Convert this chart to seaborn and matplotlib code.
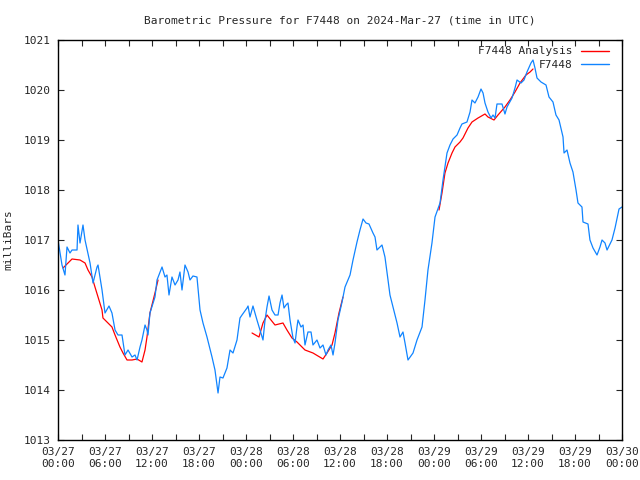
import matplotlib
matplotlib.use("Agg")
import matplotlib.pyplot as plt
import matplotlib.dates as mdates
from matplotlib.lines import Line2D
import seaborn as sns
import pandas as pd

start = pd.Timestamp("2024-03-27 00:00")

# station record, hours after start / millibars
obs_hours = [0, 0.51, 0.89, 1.15, 1.53, 1.79, 2.43, 2.55, 2.81, 3.19, 3.45, 4.09, 4.47, 4.98, 5.11,
             5.62, 6.0, 6.51, 6.89, 7.28, 7.66, 8.17, 8.55, 8.94, 9.45, 9.83, 10.09, 10.47, 10.72,
             11.11, 11.36, 11.49, 11.74, 12.38, 12.64, 13.28, 13.66, 13.91, 14.17, 14.55, 14.94,
             15.32, 15.57, 15.83, 16.21, 16.60, 16.85, 17.23, 17.74, 18.13, 18.51, 19.02, 19.66,
             20.04, 20.43, 20.68, 21.06, 21.57, 21.96, 22.34, 22.85, 23.23, 23.49, 24.13, 24.26,
             24.51, 24.89, 25.40, 25.79, 26.17, 26.43, 26.68, 26.94, 27.32, 27.70, 28.09, 28.34,
             28.60, 28.85, 29.11, 29.36, 29.62, 30.0, 30.26, 30.51, 30.64, 31.02, 31.28, 31.53,
             31.91, 32.30, 32.55, 33.06, 33.45, 33.83, 34.21, 34.47, 34.85, 35.11, 35.36, 35.74,
             36.26, 36.64, 37.28, 37.66, 38.17, 38.55, 38.94, 39.32, 39.70, 40.21, 40.47, 40.72,
             41.36, 41.74, 42.0, 42.13, 42.38, 42.77, 43.28, 43.66, 44.04, 44.30, 44.68, 45.32,
             45.83, 46.47, 46.85, 47.23, 47.74, 48.13, 48.77, 49.15, 49.66, 50.04, 50.43, 50.94,
             51.32, 51.57, 52.21, 52.60, 52.85, 53.23, 53.62, 54.0, 54.26, 54.51, 54.89, 55.28,
             55.53, 55.79, 56.04, 56.68, 57.06, 57.32, 57.96, 58.34, 58.60, 59.11, 59.49, 59.87,
             60.38, 60.64, 60.89, 61.15, 61.66, 62.30, 62.68, 63.19, 63.57, 63.96, 64.47, 64.60,
             64.98, 65.36, 65.74, 66.13, 66.38, 66.89, 67.02, 67.66, 67.91, 68.30, 68.81, 69.19,
             69.45, 69.83, 70.09, 70.72, 71.11, 71.62, 72.0]
obs_mb = [1017.0, 1016.5, 1016.3, 1016.86, 1016.74, 1016.8, 1016.8, 1017.3, 1016.94, 1017.3, 1017.0,
          1016.54, 1016.14, 1016.46, 1016.5, 1016.0, 1015.54, 1015.68, 1015.54, 1015.2, 1015.1,
          1015.1, 1014.7, 1014.8, 1014.66, 1014.7, 1014.6, 1014.86, 1015.0, 1015.3, 1015.2, 1015.1,
          1015.54, 1015.86, 1016.2, 1016.46, 1016.26, 1016.3, 1015.9, 1016.26, 1016.1, 1016.2,
          1016.36, 1016.0, 1016.5, 1016.36, 1016.2, 1016.28, 1016.26, 1015.6, 1015.34, 1015.06,
          1014.66, 1014.4, 1013.94, 1014.26, 1014.24, 1014.44, 1014.8, 1014.74, 1015.0, 1015.44,
          1015.5, 1015.64, 1015.68, 1015.46, 1015.68, 1015.4, 1015.2, 1015.0, 1015.4, 1015.66,
          1015.88, 1015.6, 1015.5, 1015.5, 1015.74, 1015.9, 1015.64, 1015.7, 1015.74, 1015.4,
          1015.04, 1014.94, 1015.26, 1015.4, 1015.26, 1015.3, 1014.9, 1015.16, 1015.16, 1014.9,
          1015.0, 1014.84, 1014.9, 1014.7, 1014.8, 1014.9, 1014.7, 1014.94, 1015.4, 1015.76,
          1016.06, 1016.3, 1016.6, 1016.96, 1017.2, 1017.42, 1017.34, 1017.32, 1017.14, 1017.06,
          1016.8, 1016.9, 1016.66, 1016.36, 1016.2, 1015.9, 1015.66, 1015.34, 1015.06, 1015.16,
          1014.94, 1014.6, 1014.74, 1015.0, 1015.26, 1015.8, 1016.4, 1016.94, 1017.46, 1017.74,
          1018.2, 1018.74, 1018.9, 1019.02, 1019.1, 1019.24, 1019.32, 1019.36, 1019.56, 1019.8,
          1019.74, 1019.86, 1020.02, 1019.94, 1019.74, 1019.56, 1019.44, 1019.5, 1019.44, 1019.72,
          1019.72, 1019.52, 1019.66, 1019.84, 1020.04, 1020.2, 1020.14, 1020.2, 1020.36, 1020.54,
          1020.6, 1020.44, 1020.24, 1020.16, 1020.1, 1019.86, 1019.76, 1019.5, 1019.4, 1019.06,
          1018.74, 1018.8, 1018.54, 1018.36, 1018.0, 1017.74, 1017.66, 1017.36, 1017.32, 1017.0,
          1016.84, 1016.7, 1016.86, 1017.0, 1016.94, 1016.8, 1017.0, 1017.24, 1017.62, 1017.66]

# analysis, three separate pieces
ana_hours_1 = [0.64, 1.79, 2.81, 3.45, 3.83, 4.34, 4.72, 5.11, 5.62, 5.74, 6.38, 6.89, 7.28, 7.91,
               8.30, 8.81, 9.45, 10.09, 10.72, 11.11, 11.36, 11.74, 12.38, 12.77]
ana_mb_1 = [1016.44, 1016.62, 1016.6, 1016.54, 1016.4, 1016.26, 1016.06, 1015.86, 1015.6, 1015.44,
            1015.34, 1015.26, 1015.1, 1014.86, 1014.74, 1014.6, 1014.6, 1014.62, 1014.56, 1014.8,
            1015.06, 1015.54, 1015.94, 1016.2]
ana_hours_2 = [24.77, 25.66, 26.17, 26.68, 27.70, 28.72, 29.23, 29.87, 30.51, 31.53, 32.55, 33.83,
               34.34, 34.98, 35.36, 35.87, 36.38]
ana_mb_2 = [1015.14, 1015.06, 1015.34, 1015.5, 1015.3, 1015.34, 1015.2, 1015.04, 1014.96, 1014.8,
            1014.74, 1014.62, 1014.74, 1014.9, 1015.14, 1015.54, 1015.86]
ana_hours_3 = [48.64, 49.02, 49.40, 49.79, 50.30, 50.68, 51.32, 51.70, 52.34, 52.85, 53.62, 54.51,
               54.89, 55.15, 55.66, 56.17, 57.06, 57.70, 58.34, 58.98, 59.74, 60.26, 60.64]
ana_mb_3 = [1017.6, 1017.94, 1018.34, 1018.54, 1018.74, 1018.86, 1018.96, 1019.04, 1019.24, 1019.36,
            1019.44, 1019.52, 1019.46, 1019.44, 1019.4, 1019.5, 1019.66, 1019.8, 1019.96, 1020.14,
            1020.3, 1020.36, 1020.42]

frames = []
for seg, (h, v) in enumerate([(ana_hours_1, ana_mb_1), (ana_hours_2, ana_mb_2), (ana_hours_3, ana_mb_3)]):
    frames.append(pd.DataFrame({"hours": h, "mb": v, "series": "F7448 Analysis", "seg": seg}))
frames.append(pd.DataFrame({"hours": obs_hours, "mb": obs_mb, "series": "F7448", "seg": 10}))
df = pd.concat(frames, ignore_index=True)
df["time"] = start + pd.to_timedelta(df["hours"], unit="h")

sns.set_style("ticks")
plt.rcParams["font.family"] = ["DejaVu Sans Mono"]

fig = plt.figure(figsize=(6.4, 4.8), dpi=100)
ax = fig.add_axes([58 / 640, 40 / 480, 564 / 640, 400 / 480])

colors = {"F7448 Analysis": "#ff0000", "F7448": "#1084ff"}
sns.lineplot(data=df, x="time", y="mb", hue="series", units="seg", estimator=None,
             palette=colors, linewidth=0.9, ax=ax, legend=False)

ax.set_xlim(start, start + pd.Timedelta(hours=72))
ax.set_ylim(1013, 1021)
ax.set_yticks(range(1013, 1022))
ax.xaxis.set_major_locator(mdates.HourLocator(byhour=[0, 6, 12, 18]))
ax.xaxis.set_minor_locator(mdates.HourLocator(byhour=[3, 9, 15, 21]))
ax.xaxis.set_major_formatter(mdates.DateFormatter("%m/%d\n%H:%M"))
ax.tick_params(which="both", direction="in", top=True, right=True, labelsize=8, width=0.8,
               length=4.5, pad=5)
for s in ax.spines.values():
    s.set_linewidth(1.0)
    s.set_color("black")

ax.set_xlabel("")
ax.set_ylabel("milliBars", fontsize=8, labelpad=8)
ax.set_title("Barometric Pressure for F7448 on 2024-Mar-27 (time in UTC)", fontsize=8, pad=12)

handles = [Line2D([], [], color=colors[k], lw=1.0) for k in colors]
ax.legend(handles, list(colors), loc="upper right", bbox_to_anchor=(0.985, 0.995),
          frameon=False, fontsize=8, markerfirst=False, handlelength=2.5,
          labelspacing=0.3, borderaxespad=0, handletextpad=0.75)

fig.savefig("out.png", dpi=100)
